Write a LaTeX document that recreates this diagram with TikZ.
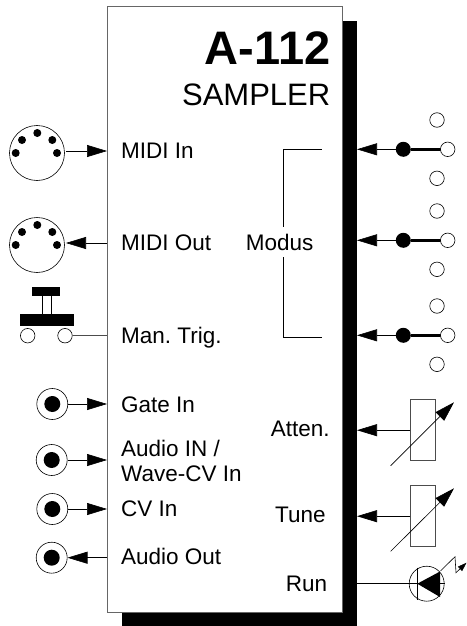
\documentclass[tikz,border=0pt]{standalone}
\usepackage{fontspec}
\setmainfont{Liberation Sans}
\usetikzlibrary{arrows.meta, positioning, calc}
\tikzset{
    panel_box/.style={rectangle, draw=black!60, fill=white, line width=0.8pt, anchor=north west, minimum width=234.5pt, minimum height=605.5pt, inner sep=0pt},
    shadow_box/.style={rectangle, fill=black, anchor=north west, inner sep=0pt},
    label_text/.style={font=\fontsize{22.5}{25}\selectfont\frenchspacing, anchor=base west, inner sep=0pt, align=left},
    midi_jack/.style={circle, draw, line width=0.6pt, minimum size=55pt, inner sep=0pt},
    midi_pin/.style={circle, fill=black, minimum size=8pt, inner sep=0pt},
    mini_jack/.style={circle, draw, fill=white, line width=0.6pt, minimum size=31pt, inner sep=0pt},
    mini_core/.style={circle, fill=black, minimum size=16pt, inner sep=0pt},
    open_dot/.style={circle, draw, fill=white, line width=0.6pt, minimum size=14.5pt, inner sep=0pt},
    black_dot/.style={circle, fill=black, minimum size=15pt, inner sep=0pt},
    pot_box/.style={rectangle, draw=black!70, line width=0.8pt, minimum width=25pt, minimum height=61pt, inner sep=0pt},
    arrow/.style={-{Triangle[length=20pt,width=12pt]}, line width=0.6pt},
    wire/.style={line width=0.6pt},
    lever/.style={line width=3.6pt}
}
\begin{document}
\begin{tikzpicture}[x=1pt,y=-1pt]
\useasboundingbox (0,0) rectangle (466,626);
% panel
\node (shadow) [shadow_box, minimum width=235pt, minimum height=605.5pt] at (122,20.5) {};
\node (panel) [panel_box] at (107,6.5) {};
\node [anchor=base east, inner sep=0pt, font=\fontsize{47}{50}\bfseries\selectfont] (title) at (330.5,65) {A-112};
\node [anchor=base east, inner sep=0pt, font=\fontsize{31}{34}\selectfont] (subtitle) at (330.5,105) {SAMPLER};
% left side labels
\node (lmidiin) [label_text] at (121,158) {MIDI In};
\node (lmidiout) [label_text] at (121,250) {MIDI Out};
\node (lman) [label_text] at (121,343.3) {Man. Trig.};
\node (lgate) [label_text] at (121,412) {Gate In};
\node (laudio) [label_text, anchor=west] at (121,461.2) {Audio IN /\\Wave-CV In};
\node (lcv) [label_text] at (121,516.3) {CV In};
\node (lout) [label_text] at (121,564.3) {Audio Out};
% right side labels
\node (lmodus) [label_text] at (245.7,250) {Modus};
\node (latten) [label_text] at (270.7,436) {Atten.};
\node (ltune) [label_text] at (275,522.7) {Tune};
\node (lrun) [label_text] at (285.7,591) {Run};
% bracket
\coordinate (b1) at (321.7,149.3);
\coordinate (b2) at (321.7,337.3);
\draw [wire] (b1) -- (283.3,149.3) -- (283.3,226.7);
\draw [wire] (b2) -- (283.3,337.3) -- (283.3,257);
% midi sockets
\foreach \name/\cy/\ty in {midiin/153/133,midiout/245/225}{
    \node (\name) [midi_jack] at (37,\cy) {};
    \node [midi_pin] (\name a) at (37.3,\ty) {};
    \node [midi_pin] (\name b) at (22,\ty+7) {};
    \node [midi_pin] (\name c) at (52.3,\ty+7) {};
    \node [midi_pin] (\name d) at (15.7,\cy) {};
    \node [midi_pin] (\name e) at (57,\cy) {};
}
\draw [arrow] (66,151) -- (107,151);
\draw [arrow] (107,243) -- (66,243);
% trigger button
\node (btop) [rectangle, fill=black, minimum width=28pt, minimum height=9pt, inner sep=0pt] at (46,291.5) {};
\node (bbar) [rectangle, fill=black, minimum width=54pt, minimum height=12pt, inner sep=0pt] at (47,320.3) {};
\draw [wire] (42.3,296) -- (42.3,314);
\draw [wire] (51.7,296) -- (51.7,314);
\node (bl) [open_dot] at (27.7,335.7) {};
\node (br) [open_dot] at (65,335.7) {};
\draw [wire, draw=black!70] (br) -- (107,335.7);
% mini jacks
\foreach \name/\cx/\cy in {gate/52.3/404,audioin/51.7/460,cvin/52.3/509,audioout/51.7/557.7}{
    \node (\name) [mini_jack] at (\cx,\cy) {};
    \node (\name c) [mini_core] at (\cx,\cy) {};
}
\draw [arrow] (gate) -- (107,404);
\draw [arrow] (audioin) -- (107,460);
\draw [arrow] (cvin) -- (107,509);
\draw [arrow] (107,557.7) -- (audioout);
% switches
\foreach \name/\cy/\up/\dn in {one/149.3/120/178.3,two/240.3/211/269.3,three/335.3/306/364.3}{
    \node (\name up) [open_dot] at (437,\up) {};
    \node (\name dn) [open_dot] at (437,\dn) {};
    \node (\name hub) [black_dot] at (403.3,\cy) {};
    \draw [lever] (\name hub) -- (447.7,\cy);
    \node (\name pin) [open_dot] at (447.7,\cy) {};
    \draw [arrow] (\name hub) -- (357,\cy);
}
% pots
\node (attpot) [pot_box] at (423.2,430.2) {};
\node (tunepot) [pot_box] at (423.2,516.2) {};
\draw [arrow] (attpot.west) -- (357,430.2);
\draw [arrow] (tunepot.west) -- (357,516.2);
\draw [arrow] (390.7,465.7) -- (454,402.3);
\draw [arrow] (390.7,551.3) -- (454,488.3);
% led
\node (led) [circle, draw, line width=0.6pt, minimum size=35pt, inner sep=0pt] at (426.7,583.7) {};
\draw [wire] (357,583.7) -- (led.east);
\draw [line width=1.6pt] (417.3,567.5) -- (417.3,600);
\fill (417.3,583.7) -- (440,571.5) -- (440,597) -- cycle;
\draw [wire, -{Triangle[length=9pt,width=6pt]}] (440.7,570.7) -- (455,556.7) -- (456,572.7) -- (466.5,562.7);
\end{tikzpicture}
\end{document}
